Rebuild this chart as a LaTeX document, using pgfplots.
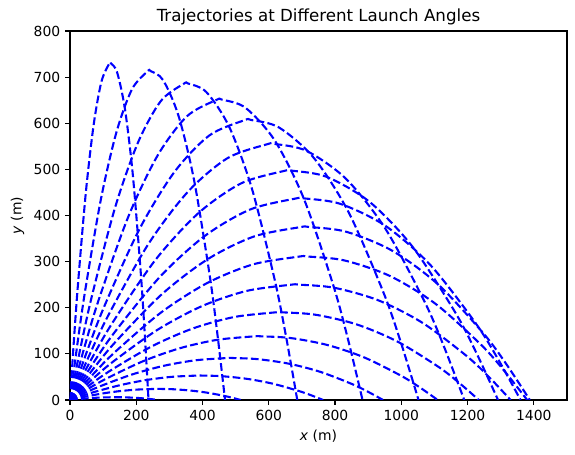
\documentclass[border=0pt]{standalone}
\usepackage{fontspec}
\setmainfont{DejaVu Sans}
\usepackage{pgfplots}
\pgfplotsset{compat=1.18}
\begin{document}
\begin{tikzpicture}
\begin{axis}[name=ax, scale only axis, width=357.8pt, height=265.7pt,
  xmin=0, xmax=1500, ymin=0, ymax=800,
  xtick={0,200,...,1400}, ytick={0,100,...,800},
  tick align=outside, xtick pos=bottom, ytick pos=left,
  major tick length=3.5pt,
  every tick/.style={black, line width=0.8pt},
  axis line style={line width=0.8pt},
  tick label style={font=\fontsize{10}{12}\selectfont},
  /pgf/number format/assume math mode=true,
  /pgf/number format/set thousands separator={},
  xlabel={\textit{x} (m)}, ylabel={\textit{y} (m)},
  label style={font=\fontsize{10}{12}\selectfont},
  title={Trajectories at Different Launch Angles},
  title style={font=\fontsize{12}{14}\selectfont, yshift=-5pt},
  traj/.style={blue, line width=1.5pt, dash pattern=on 5.55pt off 2.4pt, smooth, no markers}]
% 85 deg
\addplot[traj] coordinates {(0,0) (11.85,129.9) (23.7,247.5) (47.4,446.8) (71.1,595.0) (94.8,689.9) (118.5,729.3) (123.2,730) (142.2,710.3) (165.9,630.7) (189.6,488.4) (213.3,278.9) (225.2,148.2) (237,0)};
% 80 deg
\addplot[traj] coordinates {(0,0) (23.4,126.9) (46.8,241.7) (93.6,436.4) (140.4,581.1) (187.2,673.8) (234,712.3) (243.4,713) (280.8,693.7) (327.6,616.0) (374.4,477.0) (421.2,272.4) (444.6,144.7) (468,0)};
% 75 deg
\addplot[traj] coordinates {(0,0) (34.3,122.1) (68.6,232.6) (137.2,419.8) (205.8,559.1) (274.4,648.3) (343,685.3) (356.7,686) (411.6,667.5) (480.2,592.7) (548.8,458.9) (617.4,262.1) (651.7,139.3) (686,0)};
% 70 deg
\addplot[traj] coordinates {(0,0) (44.15,115.9) (88.3,220.7) (176.6,398.4) (264.9,530.6) (353.2,615.2) (441.5,650.3) (459.2,651) (529.8,633.4) (618.1,562.5) (706.4,435.5) (794.7,248.7) (838.9,132.2) (883,0)};
% 65 deg
\addplot[traj] coordinates {(0,0) (52.6,108.0) (105.2,205.8) (210.4,371.5) (315.6,494.7) (420.8,573.6) (526,606.4) (547.0,607) (631.2,590.6) (736.4,524.4) (841.6,406.1) (946.8,231.9) (999.4,123.2) (1052,0)};
% 60 deg
\addplot[traj] coordinates {(0,0) (59.5,98.8) (119,188.1) (238,339.7) (357,452.3) (476,524.5) (595,554.4) (618.8,555) (714,540.0) (833,479.5) (952,371.3) (1071,212.0) (1130.5,112.7) (1190,0)};
% 55 deg
\addplot[traj] coordinates {(0,0) (64.6,88.5) (129.2,168.5) (258.4,304.2) (387.6,405.1) (516.8,469.7) (646,496.5) (671.8,497) (775.2,483.6) (904.4,429.4) (1033.6,332.5) (1162.8,189.9) (1227.4,100.9) (1292,0)};
% 50 deg
\addplot[traj] coordinates {(0,0) (68,77.8) (136,148.1) (272,267.4) (408,356.2) (544,413.0) (680,436.6) (707.2,437) (816,425.2) (952,377.6) (1088,292.4) (1224,166.9) (1292,88.7) (1360,0)};
% 45 deg
\addplot[traj] coordinates {(0,0) (69.4,66.8) (138.8,127.1) (277.6,229.5) (416.4,305.6) (555.2,354.4) (694,374.6) (721.8,375) (832.8,364.9) (971.6,324.0) (1110.4,250.9) (1249.2,143.3) (1318.6,76.1) (1388,0)};
% 40 deg
\addplot[traj] coordinates {(0,0) (69,55.4) (138,105.4) (276,190.3) (414,253.5) (552,293.9) (690,310.7) (717.6,311) (828,302.6) (966,268.7) (1104,208.1) (1242,118.8) (1311,63.1) (1380,0)};
% 35 deg
\addplot[traj] coordinates {(0,0) (66.5,44.5) (133,84.75) (266,153) (399,203.75) (532,236.25) (665,249.75) (691.6,250) (798,243.25) (931,216) (1064,167.25) (1197,95.5) (1263.5,50.75) (1330,0)};
% 30 deg
\addplot[traj] coordinates {(0,0) (61.7,33.8) (123.4,64.4) (246.8,116.3) (370.2,154.9) (493.6,179.6) (617,189.8) (641.7,190) (740.4,184.9) (863.8,164.2) (987.2,127.1) (1110.6,72.6) (1172.3,38.6) (1234,0)};
% 25 deg
\addplot[traj] coordinates {(0,0) (55.5,24.6) (111,46.8) (222,84.5) (333,112.5) (444,130.4) (555,137.9) (577.2,138) (666,134.3) (777,119.2) (888,92.3) (999,52.7) (1054.5,28.0) (1110,0)};
% 20 deg
\addplot[traj] coordinates {(0,0) (47.25,16.2) (94.5,30.8) (189,55.7) (283.5,74.2) (378,86.0) (472.5,90.9) (491.4,91) (567,88.5) (661.5,78.6) (756,60.9) (850.5,34.8) (897.75,18.5) (945,0)};
% 15 deg
\addplot[traj] coordinates {(0,0) (38.2,9.4) (76.4,18.0) (152.8,32.4) (229.2,43.2) (305.6,50.1) (382,52.9) (397.3,53) (458.4,51.6) (534.8,45.8) (611.2,35.5) (687.6,20.2) (725.8,10.8) (764,0)};
% 10 deg
\addplot[traj] coordinates {(0,0) (25.75,4.3) (51.5,8.1) (103,14.7) (154.5,19.6) (206,22.7) (257.5,24.0) (267.8,24) (309,23.4) (360.5,20.7) (412,16.1) (463.5,9.2) (489.25,4.9) (515,0)};
% 5 deg
\addplot[traj] coordinates {(0,0) (13.3,1.07) (26.6,2.03) (53.2,3.67) (79.8,4.89) (106.4,5.67) (133,5.99) (138.3,6) (159.6,5.84) (186.2,5.18) (212.8,4.01) (239.4,2.29) (252.7,1.22) (266,0)};
\end{axis}
\pgfresetboundingbox
\path ([xshift=-50.4pt,yshift=-39.6pt]ax.south west) rectangle ([xshift=5.8pt,yshift=22.3pt]ax.north east);
\end{tikzpicture}
\end{document}
